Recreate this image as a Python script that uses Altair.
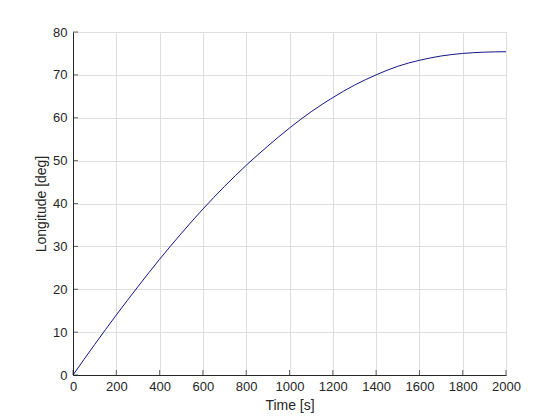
import altair as alt
import pandas as pd

time_s = [0, 100, 200, 300, 400, 500, 600, 700, 800, 900, 1000,
          1100, 1200, 1300, 1400, 1500, 1600, 1700, 1800, 1900, 2000]
longitude_deg = [0, 7.1, 14.0, 20.6, 27.0, 33.0, 38.7, 44.0, 48.9, 53.4, 57.6,
                 61.4, 64.7, 67.6, 70.0, 72.0, 73.4, 74.4, 75.0, 75.3, 75.4]
x_ticks = list(range(0, 2001, 200))
y_ticks = list(range(0, 81, 10))

df = pd.DataFrame({"t": time_s, "lon": longitude_deg})
xt = pd.DataFrame({"t": x_ticks, "lon": [0] * len(x_ticks)})
yt = pd.DataFrame({"t": [0] * len(y_ticks), "lon": y_ticks})

FONT = "Liberation Sans"
AX = "#262626"

xscale = alt.Scale(domain=[0, 2000], nice=False, zero=False)
yscale = alt.Scale(domain=[0, 80], nice=False, zero=False)

x_axis = alt.Axis(values=x_ticks, format="d", title="Time [s]", grid=True,
                  gridColor="#dedede", gridWidth=1, domainColor=AX, domainWidth=1,
                  ticks=False, labelFont=FONT, labelFontSize=13, labelColor=AX,
                  labelPadding=5, titleFont=FONT, titleFontSize=14,
                  titleFontWeight="normal", titleColor=AX, titlePadding=5,
                  labelFlush=False)
y_axis = alt.Axis(values=y_ticks, format="d", title="Longitude [deg]", grid=True,
                  gridColor="#dedede", gridWidth=1, domainColor=AX, domainWidth=1,
                  ticks=False, labelFont=FONT, labelFontSize=13, labelColor=AX,
                  labelPadding=6, titleFont=FONT, titleFontSize=14,
                  titleFontWeight="normal", titleColor=AX, titlePadding=4,
                  labelFlush=False)

line = alt.Chart(df).mark_line(color="#14148a", strokeWidth=1,
                               interpolate="monotone").encode(
    x=alt.X("t:Q", scale=xscale, axis=x_axis),
    y=alt.Y("lon:Q", scale=yscale, axis=y_axis),
)

xticks = alt.Chart(xt).mark_tick(color=AX, orient="vertical", size=5,
                                 thickness=1, yOffset=-2.5).encode(
    x=alt.X("t:Q", scale=xscale), y=alt.Y("lon:Q", scale=yscale))
yticks = alt.Chart(yt).mark_tick(color=AX, orient="horizontal", size=5,
                                 thickness=1, xOffset=2.5).encode(
    x=alt.X("t:Q", scale=xscale), y=alt.Y("lon:Q", scale=yscale))

chart = alt.layer(line, xticks, yticks).properties(
    width=433, height=343,
    autosize=alt.AutoSizeParams(type="none"),
    padding={"left": 65, "top": 24, "right": 30, "bottom": 40},
).configure_view(stroke=None).configure(background="white")

chart.save("out.html", embed_options={"renderer": "svg", "actions": False})
